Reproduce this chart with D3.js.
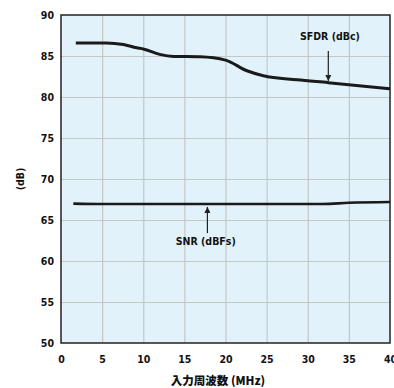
<!DOCTYPE html>
<html>
<head>
<meta charset="utf-8">
<script src="https://cdn.jsdelivr.net/npm/d3@7"></script>
<style>
  body { margin: 0; background: #fff; }
  svg text { font-family: "DejaVu Sans Condensed", "DejaVu Sans", sans-serif; font-stretch: condensed; font-weight: bold; fill: #111; }
</style>
</head>
<body>
<svg id="chart" width="394" height="388"></svg>
<script>
// input frequency (MHz) vs dB
const sfdrFreq = [1.8, 5.5, 7.6, 9.2, 10, 12, 13.7, 16.9, 20, 22.6, 24.6, 28.7, 32.5, 40];
const sfdrDb   = [86.6, 86.6, 86.4, 86.0, 85.85, 85.2, 84.95, 84.9, 84.5, 83.2, 82.6, 82.1, 81.75, 81.0];
const snrFreq  = [1.5, 5, 15, 25, 31.8, 35, 40];
const snrDb    = [67.0, 66.95, 66.95, 66.95, 66.95, 67.1, 67.2];
const xTicks = [0, 5, 10, 15, 20, 25, 30, 35, 40];
const yTicks = [50, 55, 60, 65, 70, 75, 80, 85, 90];

const margin = {top: 15, right: 4, bottom: 45, left: 61};
const width = 394, height = 388;

const svg = d3.select('#chart');

const x = d3.scaleLinear().domain([0, 40]).range([margin.left, width - margin.right]);
const y = d3.scaleLinear().domain([50, 90]).range([height - margin.bottom, margin.top]);

svg.append('defs').append('marker')
  .attr('id', 'arrow')
  .attr('viewBox', '0 0 10 10')
  .attr('refX', 10).attr('refY', 5)
  .attr('markerWidth', 5).attr('markerHeight', 5)
  .attr('orient', 'auto')
  .append('path').attr('d', 'M0,0 L10,5 L0,10 z').attr('fill', '#222');

svg.append('rect')
  .attr('x', x(0)).attr('y', y(90))
  .attr('width', x(40) - x(0)).attr('height', y(50) - y(90))
  .attr('fill', '#e1f2fa');

// grid
svg.append('g')
  .attr('transform', `translate(0,${y(50)})`)
  .call(d3.axisBottom(x).tickValues(xTicks.slice(1, -1)).tickSize(-(y(50) - y(90))).tickFormat(''))
  .call(g => g.select('.domain').remove())
  .call(g => g.selectAll('line').attr('stroke', '#c6c6c6').attr('stroke-width', 1.2));

svg.append('g')
  .attr('transform', `translate(${x(0)},0)`)
  .call(d3.axisLeft(y).tickValues(yTicks.slice(1, -1)).tickSize(-(x(40) - x(0))).tickFormat(''))
  .call(g => g.select('.domain').remove())
  .call(g => g.selectAll('line').attr('stroke', '#c6c6c6').attr('stroke-width', 1.2));

// frame
svg.append('rect')
  .attr('x', x(0)).attr('y', y(90))
  .attr('width', x(40) - x(0)).attr('height', y(50) - y(90))
  .attr('fill', 'none').attr('stroke', '#222').attr('stroke-width', 1.5);

// tick labels
svg.append('g')
  .attr('transform', `translate(0,${y(50)})`)
  .call(d3.axisBottom(x).tickValues(xTicks).tickSize(0).tickPadding(13))
  .call(g => g.select('.domain').remove())
  .call(g => g.selectAll('text').attr('font-size', 10.5).style('font-family', null));

svg.append('g')
  .attr('transform', `translate(${x(0)},0)`)
  .call(d3.axisLeft(y).tickValues(yTicks).tickSize(0).tickPadding(7))
  .call(g => g.select('.domain').remove())
  .call(g => g.selectAll('text').attr('font-size', 10.5).style('font-family', null));

const line = d3.line().curve(d3.curveMonotoneX).x(d => x(d[0])).y(d => y(d[1]));

svg.append('path')
  .datum(d3.zip(sfdrFreq, sfdrDb))
  .attr('d', line)
  .attr('fill', 'none').attr('stroke', '#1a1a1a').attr('stroke-width', 3);

svg.append('path')
  .datum(d3.zip(snrFreq, snrDb))
  .attr('d', line)
  .attr('fill', 'none').attr('stroke', '#1a1a1a').attr('stroke-width', 2.6);

// annotations
svg.append('line')
  .attr('x1', x(32.5)).attr('x2', x(32.5))
  .attr('y1', y(85.6)).attr('y2', y(81.95))
  .attr('stroke', '#222').attr('stroke-width', 1.2).attr('marker-end', 'url(#arrow)');
svg.append('text')
  .attr('x', x(32.7)).attr('y', y(86.9))
  .attr('text-anchor', 'middle').attr('font-size', 10.5)
  .text('SFDR (dBc)');

svg.append('line')
  .attr('x1', x(17.8)).attr('x2', x(17.8))
  .attr('y1', y(63.4)).attr('y2', y(66.6))
  .attr('stroke', '#222').attr('stroke-width', 1.2).attr('marker-end', 'url(#arrow)');
svg.append('text')
  .attr('x', x(17.6)).attr('y', y(61.9))
  .attr('text-anchor', 'middle').attr('font-size', 10.5)
  .text('SNR (dBFs)');

// axis titles
svg.append('text')
  .attr('x', 218).attr('y', 385)
  .attr('text-anchor', 'middle').attr('font-size', 11.5)
  .style('font-family', '"Noto Sans CJK JP", sans-serif')
  .style('font-weight', 900)
  .text('入力周波数 (MHz)');

svg.append('text')
  .attr('transform', `translate(24,${(y(50) + y(90)) / 2}) rotate(-90)`)
  .attr('text-anchor', 'middle').attr('font-size', 10.5)
  .text('(dB)');
</script>
</body>
</html>
